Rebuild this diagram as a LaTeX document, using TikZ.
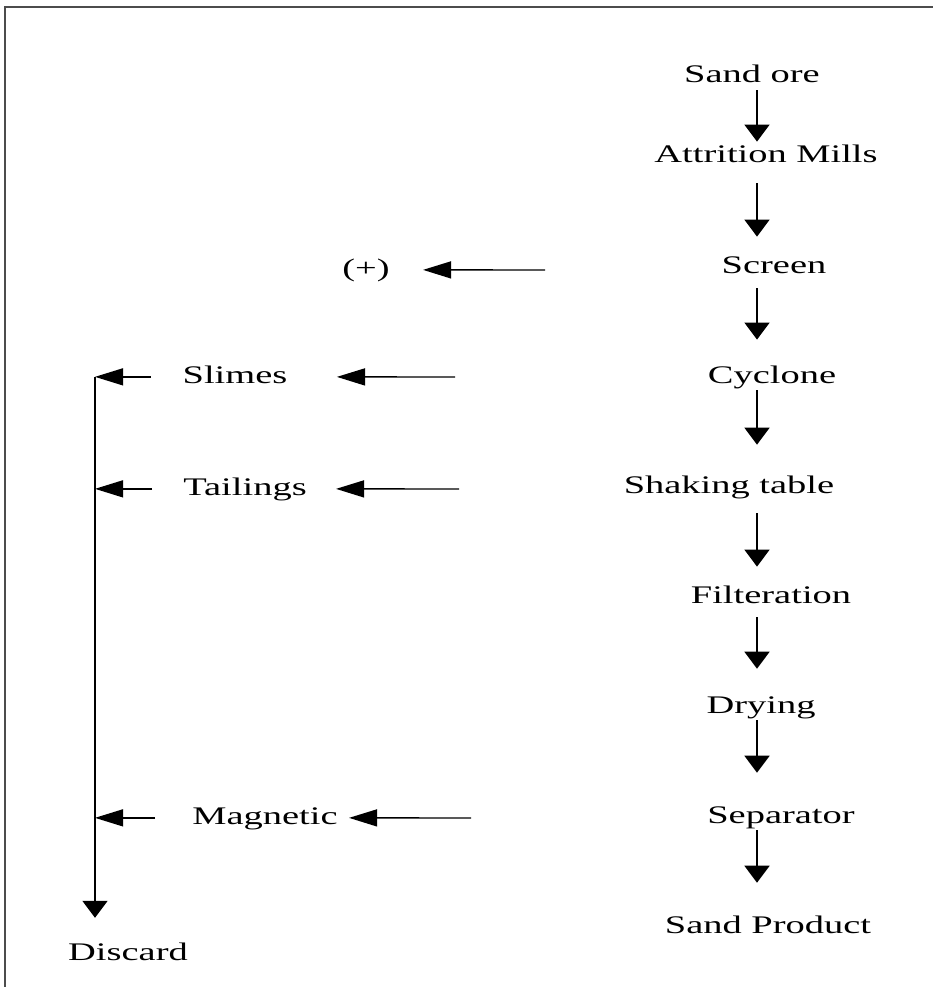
\documentclass[tikz,border=0pt]{standalone}
\usepackage{fontspec}
\setmainfont{Liberation Serif}[FakeStretch=1.52]
\usetikzlibrary{arrows.meta,positioning}

\begin{document}
\begin{tikzpicture}[x=0.02cm, y=-0.02cm,
  every node/.style={font=\fontsize{14.4}{17}\selectfont},
  stage/.style={anchor=base, inner sep=0pt, text height=10pt, text depth=3pt},
  flowdown/.style={line width=1.1pt, -{Triangle[length=9.7pt, width=14.2pt]}},
  flowleft/.style={line width=0.8pt, -{Triangle[length=16pt, width=9.7pt]}},
]

\useasboundingbox (0,0) rectangle (933,987);
\draw[black!70, line width=1.2pt] (5,987) -- (5,7) -- (933,7);

% main process column
\node[stage] (sand)      at (752,82)  {Sand ore};
\node[stage] (mills)     at (766,162) {Attrition Mills};
\node[stage] (screen)    at (774,273) {Screen};
\node[stage] (cyclone)   at (772,383) {Cyclone};
\node[stage] (shaking)   at (729,493) {Shaking table};
\node[stage] (filter)    at (771,603) {Filteration};
\node[stage] (drying)    at (761,713) {Drying};
\node[stage] (separator) at (781,823) {Separator};
\node[stage] (product)   at (768,933) {Sand Product};

% rejects
\node[stage] (plus)      at (366,276) {(+)};
\node[stage] (slimes)    at (235,383) {Slimes};
\node[stage] (tailings)  at (245,495) {Tailings};
\node[stage] (magnetic)  at (265,824) {Magnetic};
\node[stage] (discard)   at (128,960) {Discard};

\coordinate (col) at (757,0);
\foreach \a/\b/\s/\e in {sand/mills/1.5pt/1.4pt, mills/screen/9pt/10.5pt,
    screen/cyclone/5.5pt/14.5pt, cyclone/shaking/1pt/17.3pt,
    shaking/filter/8.4pt/10.5pt, filter/drying/5pt/15pt,
    drying/separator/1pt/18.4pt, separator/product/1pt/18.4pt}
  \draw[flowdown, shorten <=\s, shorten >=\e] (\a.south -| col) -- (\b.north -| col);

% side streams
\coordinate (t1) at (545,270);
\coordinate (t2) at (455,377);
\coordinate (t3) at (459,489);
\coordinate (t4) at (471,818);
\draw[flowleft, shorten >=18.8pt] (t1) -- (plus.east);
\draw[flowleft, shorten >=28pt] (t2) -- (slimes.east);
\draw[flowleft, shorten >=16.5pt] (t3) -- (tailings.east);
\draw[flowleft, shorten >=6.3pt] (t4) -- (magnetic.east);

% discard line
\coordinate (bus) at (95,377);
\draw[flowleft, shorten <=18pt] (slimes.west) -- (slimes.west -| bus);
\draw[flowleft, shorten <=17.6pt] (tailings.west) -- (tailings.west -| bus);
\draw[flowleft, shorten <=21pt] (magnetic.west) -- (magnetic.west -| bus);
\draw[flowdown, shorten >=13.8pt] (bus) -- (bus |- discard.north);

\end{tikzpicture}
\end{document}
